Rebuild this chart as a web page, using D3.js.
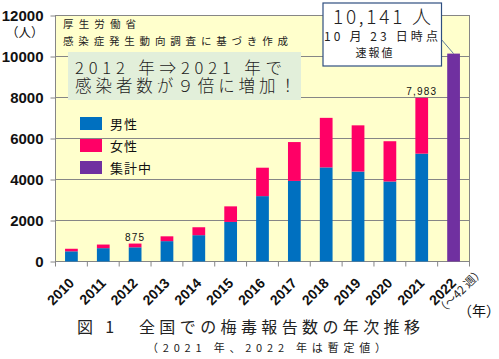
<!DOCTYPE html>
<html><head><meta charset="utf-8">
<script src="https://cdn.jsdelivr.net/npm/d3@7"></script>
<style>body{margin:0;background:#fff}svg{display:block}</style>
</head><body>
<script>
// ---- data ----
const years = ["2010","2011","2012","2013","2014","2015","2016","2017","2018","2019","2020","2021","2022"];
const male = [497,651,692,993,1284,1930,3189,3931,4591,4387,3902,5261,0];
const female = [124,176,183,235,387,760,1386,1895,2416,2255,1965,2722,0];
const tallying = [0,0,0,0,0,0,0,0,0,0,0,0,10141];
const yTicks = [0,2000,4000,6000,8000,10000,12000];
const seriesNames = ["男性","女性","集計中"];
const seriesColors = ["#0070C0","#FF0066","#7030A0"];
const labelYears = ["2012","2021"];

const JP = "'Noto Sans CJK JP','Noto Sans',sans-serif";
const LAT = "'Liberation Sans',Arial,sans-serif";

const W = 499, H = 359;
const svg = d3.select("body").append("svg").attr("width", W).attr("height", H);
svg.append("rect").attr("width", W).attr("height", H).attr("fill", "#fff");

const x0 = 55.5, x1 = 469.5, yTop = 15.5, yBot = 261.5;
const x = d3.scaleBand().domain(years).range([x0, x1]).paddingInner(0.6).paddingOuter(0.3);
const y = d3.scaleLinear().domain([0, 12000]).range([yBot, yTop]);
const grid = "#868686";

// plot area
svg.append("rect").attr("x", x0).attr("y", yTop).attr("width", x1 - x0).attr("height", yBot - yTop)
  .attr("fill", "#FFFFCC").attr("stroke", grid).attr("stroke-width", 1);

// gridlines
svg.append("g").selectAll("line").data(yTicks.filter(d => d > 0 && d < 12000)).join("line")
  .attr("x1", x0).attr("x2", x1).attr("y1", d => y(d)).attr("y2", d => y(d))
  .attr("stroke", grid).attr("stroke-width", 1);

// y axis
const yAxis = svg.append("g").attr("transform", `translate(${x0},0)`)
  .call(d3.axisLeft(y).tickValues(yTicks).tickSize(5).tickPadding(7).tickFormat(d3.format("d")));
yAxis.select(".domain").remove();
yAxis.selectAll("line").attr("stroke", grid);
yAxis.selectAll("text").attr("font-family", LAT).attr("font-size", 15).attr("font-weight", "bold")
  .attr("fill", "#111");

// x axis boundary ticks
const step = x.step();
const firstEdge = x(years[0]) + x.bandwidth() / 2 - step / 2;
svg.append("g").selectAll("line").data(d3.range(years.length + 1)).join("line")
  .attr("x1", i => firstEdge + i * step).attr("x2", i => firstEdge + i * step)
  .attr("y1", yBot).attr("y2", yBot + 5).attr("stroke", grid);

// stacked bars
const rows = years.map((yr, i) => ({year: yr, male: male[i], female: female[i], tally: tallying[i]}));
const keys = ["male", "female", "tally"];
const stacked = d3.stack().keys(keys)(rows);
svg.append("g").selectAll("g").data(stacked).join("g")
  .attr("fill", (d, i) => seriesColors[i])
  .selectAll("rect").data(d => d.filter(p => p[1] > p[0])).join("rect")
  .attr("x", d => x(d.data.year)).attr("width", x.bandwidth())
  .attr("y", d => y(d[1])).attr("height", d => y(d[0]) - y(d[1]));

// value labels
const fmt = d3.format(",");
svg.append("g").selectAll("text").data(labelYears).join("text")
  .attr("x", d => x(d) + x.bandwidth() / 2)
  .attr("y", d => { const i = years.indexOf(d); return y(male[i] + female[i]) - 3; })
  .attr("text-anchor", "middle").attr("font-family", LAT).attr("font-size", 10)
  .attr("letter-spacing", 1.2).attr("fill", "#111")
  .text(d => { const i = years.indexOf(d); return fmt(male[i] + female[i]); });

// x labels
svg.append("g").selectAll("text").data(years).join("text")
  .attr("transform", d => `translate(${x(d) + x.bandwidth() / 2 + 3.5},284) rotate(-45)`)
  .attr("text-anchor", "end").attr("font-family", LAT).attr("font-size", 14).attr("font-weight", "bold")
  .attr("fill", "#111").text(d => d);
svg.append("text")
  .attr("transform", `translate(${x("2022") + x.bandwidth() / 2 + 9.5},294) rotate(-45)`)
  .attr("text-anchor", "middle").attr("font-family", JP).attr("font-size", 11.5).attr("fill", "#222")
  .text("（～42 週）");

// axis unit labels
svg.append("text").attr("x", 6).attr("y", 37).attr("font-family", JP).attr("font-size", 12.5)
  .attr("fill", "#111").text("（人）");
svg.append("text").attr("x", 458).attr("y", 316).attr("font-family", JP).attr("font-size", 14)
  .attr("fill", "#111").text("（年）");

// source text
svg.append("text").attr("x", 63).attr("y", 28).attr("font-family", JP).attr("font-size", 10.5)
  .attr("textLength", 73).attr("lengthAdjust", "spacing").attr("fill", "#222").text("厚生労働省");
svg.append("text").attr("x", 63).attr("y", 44.5).attr("font-family", JP).attr("font-size", 10.5)
  .attr("textLength", 225).attr("lengthAdjust", "spacing").attr("fill", "#222").text("感染症発生動向調査に基づき作成");

// green message box (one two-line text)
svg.append("rect").attr("x", 68).attr("y", 52).attr("width", 233).attr("height", 48).attr("fill", "#E2EFDA");
const msg = svg.append("text").attr("font-family", JP).attr("font-size", 16.5).attr("font-weight", 300)
  .attr("fill", "#222");
msg.append("tspan").attr("x", 75).attr("y", 73.5).attr("textLength", 207).attr("lengthAdjust", "spacing")
  .text("2012 年⇒2021 年で");
msg.append("tspan").attr("x", 75).attr("y", 91.5).attr("textLength", 221).attr("lengthAdjust", "spacing")
  .text("感染者数が９倍に増加！");

// legend
const lg = svg.append("g").selectAll("g").data(seriesNames).join("g")
  .attr("transform", (d, i) => `translate(80,${117 + i * 22})`);
lg.append("rect").attr("width", 22).attr("height", 13).attr("fill", (d, i) => seriesColors[i]);
lg.append("text").attr("x", 30).attr("y", 12).attr("font-family", JP).attr("font-size", 13)
  .attr("letter-spacing", 1).attr("fill", "#111").text(d => d);

// callout
const cx = x("2022") + x.bandwidth() / 2;
svg.append("line").attr("x1", 441).attr("y1", 39).attr("x2", cx).attr("y2", y(tallying[12]))
  .attr("stroke", "#5B7A9A").attr("stroke-width", 1);
svg.append("rect").attr("x", 323).attr("y", 3).attr("width", 118.5).attr("height", 63)
  .attr("fill", "#fff").attr("stroke", "#2F4F80").attr("stroke-width", 1.2);
const call = svg.append("text").attr("font-family", JP).attr("fill", "#222").attr("text-anchor", "middle");
call.append("tspan").attr("x", 382).attr("y", 23.5).attr("font-size", 19).attr("font-weight", 300)
  .attr("textLength", 98).attr("lengthAdjust", "spacing").text(fmt(tallying[12]) + " 人");
call.append("tspan").attr("x", 381).attr("y", 40.5).attr("font-size", 12)
  .attr("textLength", 114).attr("lengthAdjust", "spacing").text("10 月 23 日時点");
call.append("tspan").attr("x", 374).attr("y", 57).attr("font-size", 11)
  .attr("textLength", 37).attr("lengthAdjust", "spacing").text("速報値");

// titles
svg.append("text").attr("x", 77).attr("y", 332.5).attr("font-family", JP).attr("font-size", 16)
  .attr("textLength", 343).attr("lengthAdjust", "spacing").attr("fill", "#222")
  .text("図 1　全国での梅毒報告数の年次推移");
svg.append("text").attr("x", 147).attr("y", 351.5).attr("font-family", JP).attr("font-size", 11)
  .attr("textLength", 239).attr("lengthAdjust", "spacing").attr("fill", "#222")
  .text("（2021 年、2022 年は暫定値）");
</script>
</body></html>
